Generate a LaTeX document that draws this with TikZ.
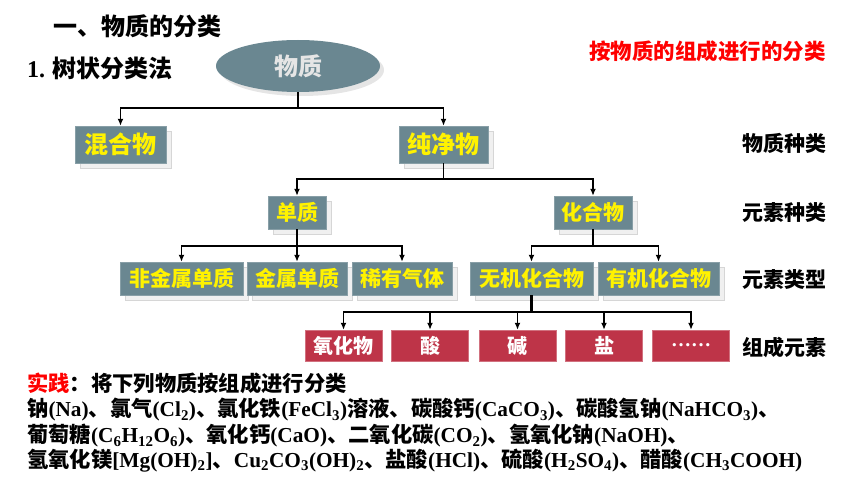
\documentclass[tikz,border=0pt]{standalone}
\usepackage{fontspec}
\setmainfont{Noto Sans CJK SC}
\newfontfamily\tm{Liberation Serif}
\usetikzlibrary{shapes, shadows, arrows.meta}
\definecolor{slate}{RGB}{106,135,145}
\definecolor{crimson}{RGB}{190,52,72}
\definecolor{shade}{RGB}{240,240,240}
\definecolor{shadeline}{RGB}{214,214,214}
\newcommand{\fs}[1]{\fontsize{#1}{#1}\selectfont\bfseries}
\tikzset{
  kind/.style={draw=slate!80!white, fill=slate, text=yellow, font=\fs{21},
    minimum height=33pt, inner sep=0pt,
    drop shadow={shadow xshift=5pt, shadow yshift=-5pt, fill=shade, draw=shadeline, opacity=1}},
  part/.style={draw=crimson!70!white, fill=crimson, text=white, font=\fs{20},
    minimum width=77pt, minimum height=31pt, inner sep=0pt},
  level/.style={font=\fs{21}, inner sep=0pt},
  practice/.style={font=\fs{21.3}, anchor=west, inner sep=0pt},
  stem/.style={line width=1.8pt},
  link/.style={line width=1.8pt, -{Latex[length=7pt,width=6pt]}},
}
\begin{document}
\begin{tikzpicture}[x=1pt, y=-1pt]
  \useasboundingbox (0,0) rectangle (860,484);
  % headings
  \node[font=\fs{24}, anchor=west, inner sep=0pt] (title) at (53,26) {一、物质的分类};
  \node[font=\fs{24}, anchor=west, inner sep=0pt] (method) at (27,68) {{\tm 1.} 树状分类法};
  \node[font=\fs{21.5}, text=red, anchor=east, inner sep=0pt] (basis) at (826,51) {按物质的组成进行的分类};

  % tree
  \node[ellipse, fill=slate, text=white!90!black, font=\fs{24}, minimum width=164pt, minimum height=52pt,
    drop shadow={shadow xshift=4pt, shadow yshift=-4pt, fill=black!10, opacity=1}] (wz) at (298,66) {物质};

  \node[kind, font=\fs{24}, minimum width=91pt, minimum height=37pt] (hh) at (120.5,144.5) {混合物};
  \node[kind, font=\fs{24}, minimum width=89pt, minimum height=37pt] (cjw) at (443.5,144.5) {纯净物};

  \node[kind, minimum width=58pt] (dz) at (297,212.5) {单质};
  \node[kind, minimum width=78pt] (hhw) at (593,212.5) {化合物};

  \node[kind, minimum width=123pt] (fjs) at (181.5,278.5) {非金属单质};
  \node[kind, minimum width=100pt] (js) at (297,278.5) {金属单质};
  \node[kind, minimum width=100pt] (xy) at (402,278.5) {稀有气体};
  \node[kind, minimum width=123pt] (wj) at (531.5,278.5) {无机化合物};
  \node[kind, minimum width=121pt] (yj) at (658.5,278.5) {有机化合物};

  \node[part] (yhw) at (343.5,345.5) {氧化物};
  \node[part] (suan) at (430,345.5) {酸};
  \node[part] (jian) at (517.5,345.5) {碱};
  \node[part] (yan) at (604,345.5) {盐};
  \node[part] (more) at (691,345.5) {\tm ……};

  % levels
  \node[level] (l1) at (784,143) {物质种类};
  \node[level] (l2) at (784,213) {元素种类};
  \node[level] (l3) at (784,280) {元素类型};
  \node[level] (l4) at (784,347) {组成元素};

  % connectors
  \coordinate (j0) at (298,108);
  \coordinate (j1) at (443.5,179);
  \coordinate (j2) at (297,246);
  \coordinate (j3) at (593,246);
  \coordinate (j4) at (531.5,312);
  \draw[stem] (wz.south) -- (j0);
  \foreach \n in {hh, cjw} \draw[link] (j0) -| (\n.north);
  \draw[stem] (cjw.south) -- (j1);
  \foreach \n in {dz, hhw} \draw[link] (j1) -| (\n.north);
  \draw[stem] (dz.south) -- (j2);
  \foreach \n in {fjs, js, xy} \draw[link] (j2) -| (\n.north);
  \draw[stem] (hhw.south) -- (j3);
  \foreach \n in {wj, yj} \draw[link] (j3) -| (\n.north);
  \draw[stem, line width=3pt] (wj.south) -- (j4);
  \foreach \n in {yhw, suan, jian, yan, more} \draw[link] (j4) -| (\n.north);

  % practice
  \node[practice] (task) at (27,383) {{\color{red}实践}：将下列物质按组成进行分类};
  \node[practice] (row1) at (27,410) {钠{\tm(Na)}、氯气{\tm(Cl\textsubscript{2})}、氯化铁{\tm(FeCl\textsubscript{3})}溶液、碳酸钙{\tm(CaCO\textsubscript{3})}、碳酸氢钠{\tm(NaHCO\textsubscript{3})}、};
  \node[practice] (row2) at (27,436) {葡萄糖{\tm(C\textsubscript{6}H\textsubscript{12}O\textsubscript{6})}、氧化钙{\tm(CaO)}、二氧化碳{\tm(CO\textsubscript{2})}、氢氧化钠{\tm(NaOH)}、};
  \node[practice] (row3) at (27,461) {氢氧化镁{\tm[Mg(OH)\textsubscript{2}]}、{\tm Cu\textsubscript{2}CO\textsubscript{3}(OH)\textsubscript{2}}、盐酸{\tm(HCl)}、硫酸{\tm(H\textsubscript{2}SO\textsubscript{4})}、醋酸{\tm(CH\textsubscript{3}COOH)}};
\end{tikzpicture}
\end{document}
